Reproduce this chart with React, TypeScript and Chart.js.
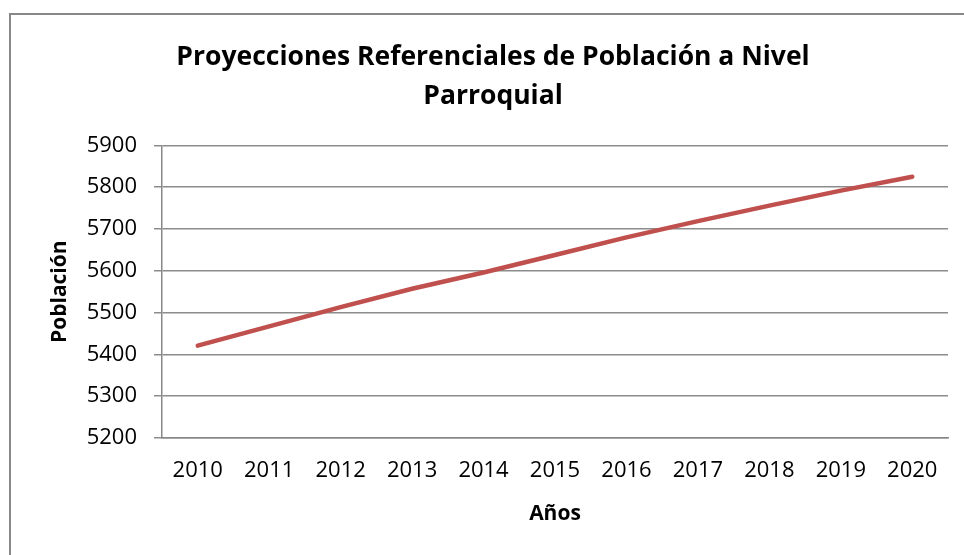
import React, { useEffect, useRef } from "react";
import { Chart, registerables } from "chart.js";

Chart.register(...registerables);

const years = ["2010", "2011", "2012", "2013", "2014", "2015", "2016", "2017", "2018", "2019", "2020"];
const poblacion = [5421, 5467, 5513, 5557, 5596, 5638, 5680, 5719, 5756, 5792, 5825];
const titleLines = ["Proyecciones Referenciales de Población a Nivel", "Parroquial"];
const yTitle = "Población";
const xTitle = "Años";
const yMin = 5200;
const yMax = 5900;
const yStep = 100;

const FONT = "'Open Sans', 'Noto Sans', sans-serif";

const frame = {
  id: "frame",
  beforeDraw(chart: any) {
    const ctx = chart.ctx;
    ctx.save();
    ctx.fillStyle = "#ffffff";
    ctx.fillRect(0, 0, chart.width, chart.height);
    ctx.strokeStyle = "#888888";
    ctx.lineWidth = 2;
    ctx.strokeRect(10, 14, chart.width + 50, chart.height + 50);
    ctx.restore();
  },
};

export default function App() {
  const ref = useRef<HTMLCanvasElement | null>(null);
  useEffect(() => {
    if (!ref.current) return;
    const chart = new Chart(ref.current, {
      type: "line",
      data: {
        labels: years,
        datasets: [
          {
            data: poblacion,
            borderColor: "#C0504D",
            backgroundColor: "#C0504D",
            borderWidth: 4.5,
            pointRadius: 0,
            borderCapStyle: "round",
            tension: 0,
            yAxisID: "y",
          },
        ],
      },
      options: {
        animation: false,
        responsive: false,
        devicePixelRatio: 1,
        layout: { padding: { left: 14, right: 28, top: 38, bottom: 20 } },
        plugins: {
          legend: { display: false },
          tooltip: { enabled: false },
          title: {
            display: true,
            text: titleLines,
            color: "#000",
            font: { family: FONT, size: 26.5, weight: "bold", lineHeight: 1.48 },
            padding: { top: 0, bottom: 29 },
          },
        },
        scales: {
          x: {
            type: "category",
            offset: true,
            grid: { display: true, drawOnChartArea: false, drawTicks: false, offset: true },
            border: { display: true, color: "#888888", width: 1.5 },
            ticks: { color: "#000", font: { family: FONT, size: 22 }, padding: 20, maxRotation: 0, autoSkip: false },
            title: { display: true, text: xTitle, color: "#000", font: { family: FONT, size: 21, weight: "bold", lineHeight: 1.2 }, padding: { top: 7, bottom: 8 } },
            afterFit: (s: any) => { s.height = 97; },
          },
          y: {
            position: "left",
            min: yMin,
            max: yMax,
            ticks: {
              stepSize: yStep,
              color: "#000",
              font: { family: FONT, size: 22 },
              padding: 17,
              callback: (v: any) => String(v),
            },
            grid: { color: "#8c8c8c", lineWidth: 1.5, tickLength: 8, drawTicks: true },
            border: { display: true, color: "#888888", width: 1.5 },
            title: { display: true, text: yTitle, color: "#000", font: { family: FONT, size: 21, weight: "bold", lineHeight: 1.2 }, padding: { top: 33, bottom: 0 } },
            afterFit: (s: any) => { s.width = 148; },
          },
          pad: {
            position: "right",
            display: true,
            ticks: { display: false },
            grid: { display: false },
            border: { display: false },
            title: { display: false },
            afterFit: (s: any) => { s.width = 24; },
          },
        },
      },
      plugins: [frame],
    });
    return () => chart.destroy();
  }, []);
  return (
    <div style={{ position: "fixed", left: 0, top: 0, width: 964, height: 555, overflow: "hidden", background: "#fff" }}>
      <canvas ref={ref} width={1000} height={555} style={{ display: "block", width: 1000, height: 555 }} />
    </div>
  );
}
